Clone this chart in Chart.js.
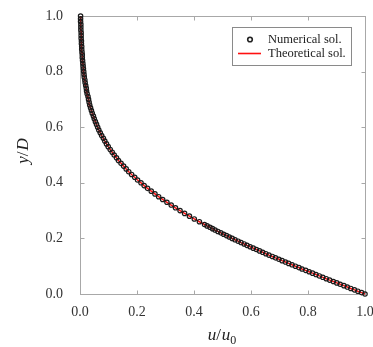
<!DOCTYPE html>
<html>
<head>
<meta charset="utf-8">
<script src="https://cdn.jsdelivr.net/npm/chart.js@4.4.1/dist/chart.umd.min.js"></script>
<style>
  html, body { margin: 0; padding: 0; background: #fff; }
  #wrap { width: 373px; height: 347px; }
</style>
</head>
<body>
<div id="wrap"><canvas id="profileChart" width="373" height="347"></canvas></div>
<script>
// y/D of the solution points (finer spacing close to the wall)
const yPos = [
  0.000, 0.005, 0.010, 0.015, 0.020, 0.025, 0.030, 0.035, 0.040, 0.045,
  0.050, 0.055, 0.060, 0.065, 0.070, 0.075, 0.080, 0.085, 0.090, 0.095,
  0.100, 0.105, 0.110, 0.115, 0.120, 0.125, 0.130, 0.135, 0.140, 0.145,
  0.150, 0.155, 0.160, 0.165, 0.170, 0.175, 0.180, 0.185, 0.190, 0.195,
  0.200, 0.205, 0.210, 0.215, 0.220, 0.225, 0.230, 0.235, 0.240, 0.245,
  0.250,
  0.26, 0.27, 0.28, 0.29, 0.30, 0.31, 0.32, 0.33, 0.34, 0.35,
  0.36, 0.37, 0.38, 0.39, 0.40, 0.41, 0.42, 0.43, 0.44, 0.45,
  0.46, 0.47, 0.48, 0.49, 0.50, 0.51, 0.52, 0.53, 0.54, 0.55,
  0.56, 0.57, 0.58, 0.59, 0.60, 0.61, 0.62, 0.63, 0.64, 0.65,
  0.66, 0.67, 0.68, 0.69, 0.70, 0.71, 0.72, 0.73, 0.74, 0.75,
  0.76, 0.77, 0.78, 0.79, 0.80, 0.81, 0.82, 0.83, 0.84, 0.85,
  0.86, 0.87, 0.88, 0.89, 0.90, 0.91, 0.92, 0.93, 0.94, 0.95,
  0.96, 0.97, 0.98, 0.99, 1.00
];

// u/u0
const uNumerical = [
  1.000, 0.988, 0.975, 0.963, 0.950, 0.938, 0.926, 0.913, 0.901, 0.889,
  0.876, 0.864, 0.852, 0.840, 0.828, 0.816, 0.804, 0.792, 0.779, 0.768,
  0.756, 0.744, 0.732, 0.721, 0.709, 0.698, 0.686, 0.675, 0.663, 0.652,
  0.641, 0.630, 0.619, 0.608, 0.597, 0.586, 0.576, 0.565, 0.555, 0.544,
  0.534, 0.524, 0.514, 0.504, 0.494, 0.484, 0.474, 0.465, 0.456, 0.446,
  0.437,
  0.419, 0.401, 0.384, 0.367, 0.351, 0.335, 0.320, 0.305, 0.290, 0.276,
  0.263, 0.250, 0.237, 0.225, 0.214, 0.202, 0.192, 0.181, 0.171, 0.162,
  0.153, 0.144, 0.135, 0.128, 0.120, 0.113, 0.106, 0.099, 0.093, 0.087,
  0.082, 0.076, 0.071, 0.066, 0.062, 0.058, 0.054, 0.050, 0.047, 0.043,
  0.040, 0.037, 0.034, 0.032, 0.030, 0.028, 0.025, 0.023, 0.022, 0.020,
  0.018, 0.017, 0.015, 0.014, 0.013, 0.012, 0.011, 0.010, 0.009, 0.008,
  0.008, 0.007, 0.006, 0.006, 0.005, 0.005, 0.004, 0.004, 0.004, 0.003,
  0.003, 0.003, 0.002, 0.002, 0.002
];

// the red curve sits right on top of the circles
const uTheoretical = uNumerical.slice();

const axisTicks = [0.0, 0.2, 0.4, 0.6, 0.8, 1.0];

const frameColor = '#a8a8a8';
const serif = '"Liberation Serif", "Times New Roman", serif';

// box round the plot + small inward ticks on all four sides
const framePlugin = {
  id: 'frame',
  beforeDatasetsDraw(chart) {
    const { ctx, chartArea: a, scales } = chart;
    ctx.save();
    ctx.strokeStyle = frameColor;
    ctx.lineWidth = 1;
    const l = Math.round(a.left) + 0.5, r = Math.round(a.right) + 0.5;
    const t = Math.round(a.top) + 0.5, b = Math.round(a.bottom) + 0.5;
    ctx.strokeRect(l, t, r - l, b - t);
    const len = 4;
    ctx.beginPath();
    axisTicks.forEach(v => {
      const x = Math.round(scales.x.getPixelForValue(v)) + 0.5;
      ctx.moveTo(x, b); ctx.lineTo(x, b - len);
      ctx.moveTo(x, t); ctx.lineTo(x, t + len);
      const y = Math.round(scales.y.getPixelForValue(v)) + 0.5;
      ctx.moveTo(l, y); ctx.lineTo(l + len, y);
      ctx.moveTo(r, y); ctx.lineTo(r - len, y);
    });
    ctx.stroke();
    ctx.restore();
  }
};

// draw a run of text pieces (italic letters, upright slash, subscript)
function drawPieces(ctx, pieces, cx, baseline) {
  let total = 0;
  pieces.forEach(p => { ctx.font = p.font; p.w = ctx.measureText(p.text).width; total += p.w + (p.gap || 0); });
  let x = cx - total / 2;
  ctx.textAlign = 'left';
  ctx.textBaseline = 'alphabetic';
  pieces.forEach(p => {
    ctx.font = p.font;
    ctx.fillText(p.text, x, baseline + (p.dy || 0));
    x += p.w + (p.gap || 0);
  });
}

const labelPlugin = {
  id: 'labels',
  afterDraw(chart) {
    const { ctx } = chart;
    const it = 'italic 17px ' + serif;
    const up = '17px ' + serif;
    ctx.save();
    ctx.fillStyle = '#222';

    // x title  u/u0
    drawPieces(ctx, [
      { text: 'u', font: it },
      { text: '/', font: up, gap: 1 },
      { text: 'u', font: it },
      { text: '0', font: '12px ' + serif, dy: 4 }
    ], 222, 340);

    // y title  y/D
    ctx.save();
    ctx.translate(28, 151);
    ctx.rotate(-Math.PI / 2);
    drawPieces(ctx, [
      { text: 'y', font: it },
      { text: '/', font: up, gap: 1 },
      { text: 'D', font: it }
    ], 0, 0);
    ctx.restore();

    // legend box inside the plot
    const ds = chart.data.datasets;
    ctx.fillStyle = '#fff';
    ctx.fillRect(233, 28, 119, 38);
    ctx.strokeStyle = '#8a8a8a';
    ctx.lineWidth = 1;
    ctx.strokeRect(232.5, 27.5, 119, 38);

    ctx.beginPath();
    ctx.arc(250, 39.5, 2.3, 0, Math.PI * 2);
    ctx.strokeStyle = '#222';
    ctx.lineWidth = 1.6;
    ctx.stroke();

    ctx.beginPath();
    ctx.moveTo(238, 53.5);
    ctx.lineTo(261, 53.5);
    ctx.strokeStyle = ds[1].borderColor;
    ctx.lineWidth = 1.6;
    ctx.stroke();

    ctx.fillStyle = '#222';
    ctx.font = '12.5px ' + serif;
    ctx.textAlign = 'left';
    ctx.textBaseline = 'middle';
    ctx.fillText(ds[0].label, 268, 40);
    ctx.fillText(ds[1].label, 268, 54);
    ctx.restore();
  }
};

const tickFont = { family: serif, size: 14 };

new Chart(document.getElementById('profileChart'), {
  type: 'scatter',
  data: {
    datasets: [
      {
        label: 'Numerical sol.',
        data: yPos.map((y, i) => ({ x: uNumerical[i], y: y })),
        showLine: false,
        pointRadius: 2.2,
        pointBorderWidth: 1.2,
        pointBorderColor: '#1a1a1a',
        pointBackgroundColor: 'rgba(0,0,0,0)',
        clip: false
      },
      {
        label: 'Theoretical sol.',
        data: yPos.map((y, i) => ({ x: uTheoretical[i], y: y })),
        showLine: true,
        borderColor: '#ff1010',
        borderWidth: 1.5,
        pointRadius: 0,
        fill: false,
        clip: false
      }
    ]
  },
  options: {
    responsive: false,
    animation: false,
    devicePixelRatio: 1,
    layout: { padding: { left: 0, right: 8, top: 16, bottom: 0 } },
    plugins: { legend: { display: false }, tooltip: { enabled: false } },
    scales: {
      x: {
        type: 'linear',
        min: 0,
        max: 1,
        afterBuildTicks: s => { s.ticks = axisTicks.map(v => ({ value: v })); },
        ticks: { callback: v => v.toFixed(1), font: tickFont, color: '#333', padding: 10, maxRotation: 0 },
        grid: { display: false, drawTicks: false },
        border: { display: false },
        afterFit: s => { s.height = 53; s.paddingLeft = 0; s.paddingRight = 0; }
      },
      y: {
        type: 'linear',
        min: 0,
        max: 1,
        afterBuildTicks: s => { s.ticks = axisTicks.map(v => ({ value: v })); },
        ticks: { callback: v => v.toFixed(1), font: tickFont, color: '#333', padding: 17 },
        grid: { display: false, drawTicks: false },
        border: { display: false },
        afterFit: s => { s.width = 80; s.paddingTop = 0; s.paddingBottom = 0; }
      }
    }
  },
  plugins: [framePlugin, labelPlugin]
});
</script>
</body>
</html>
